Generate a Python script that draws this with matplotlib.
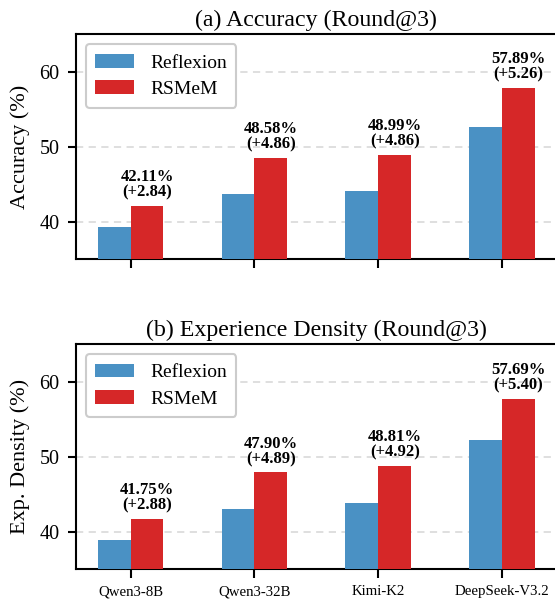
import matplotlib
matplotlib.use("Agg")
import matplotlib.pyplot as plt
import numpy as np

plt.rcParams['font.family'] = ['Liberation Serif', 'DejaVu Serif']

models = ["Qwen3-8B", "Qwen3-32B", "Kimi-K2", "DeepSeek-V3.2"]

acc_reflexion = [39.27, 43.72, 44.13, 52.63]
acc_rsmem = [42.11, 48.58, 48.99, 57.89]
acc_gain = ["+2.84", "+4.86", "+4.86", "+5.26"]

dens_reflexion = [38.87, 43.01, 43.89, 52.29]
dens_rsmem = [41.75, 47.90, 48.81, 57.69]
dens_gain = ["+2.88", "+4.89", "+4.92", "+5.40"]

blue = "#4A91C4"
red = "#D62728"

fig = plt.figure(figsize=(5.55, 6.06), dpi=100)
ax1 = fig.add_axes([0.137, 0.5718, 0.866, 0.3713])
ax2 = fig.add_axes([0.137, 0.0607, 0.866, 0.3713])

x = np.arange(len(models))
w = 0.265


def draw(ax, base, ours, gain, title, ylabel, show_xt):
    ax.bar(x - w / 2, base, w, color=blue, label="Reflexion", zorder=3)
    ax.bar(x + w / 2, ours, w, color=red, label="RSMeM", zorder=3)
    for i in range(len(models)):
        ax.annotate("%.2f%%\n(%s)" % (ours[i], gain[i]),
                    xy=(x[i] + w / 2, ours[i]), xytext=(0, 4),
                    textcoords="offset points", ha="center", va="bottom",
                    fontsize=12, fontweight="bold", linespacing=0.95)
    ax.set_ylim(35, 65)
    ax.set_xlim(-0.44, 3.44)
    ax.set_yticks([40, 50, 60])
    ax.set_xticks(x)
    if show_xt:
        ax.set_xticklabels(models, fontsize=10.7)
    else:
        ax.set_xticklabels([])
    ax.tick_params(axis='y', labelsize=14.5, width=1.5, length=6, pad=6)
    ax.tick_params(axis='x', width=1.5, length=6.5, pad=5)
    ax.yaxis.grid(True, linestyle=(0, (4, 3)), color="#dcdcdc", linewidth=1.3, zorder=0)
    ax.set_axisbelow(True)
    for s in ax.spines.values():
        s.set_linewidth(1.5)
    ax.set_title(title, fontsize=17.2, pad=6)
    ax.set_ylabel(ylabel, fontsize=16, labelpad=7)
    leg = ax.legend(loc="upper left", fontsize=14, frameon=True, fancybox=True,
                    edgecolor="#cccccc", framealpha=1.0, handlelength=2.0,
                    borderpad=0.5, labelspacing=0.45)
    leg.get_frame().set_linewidth(1.5)


draw(ax1, acc_reflexion, acc_rsmem, acc_gain, "(a) Accuracy (Round@3)", "Accuracy (%)", False)
draw(ax2, dens_reflexion, dens_rsmem, dens_gain, "(b) Experience Density (Round@3)", "Exp. Density (%)", True)

fig.savefig("out.png", dpi=100)
